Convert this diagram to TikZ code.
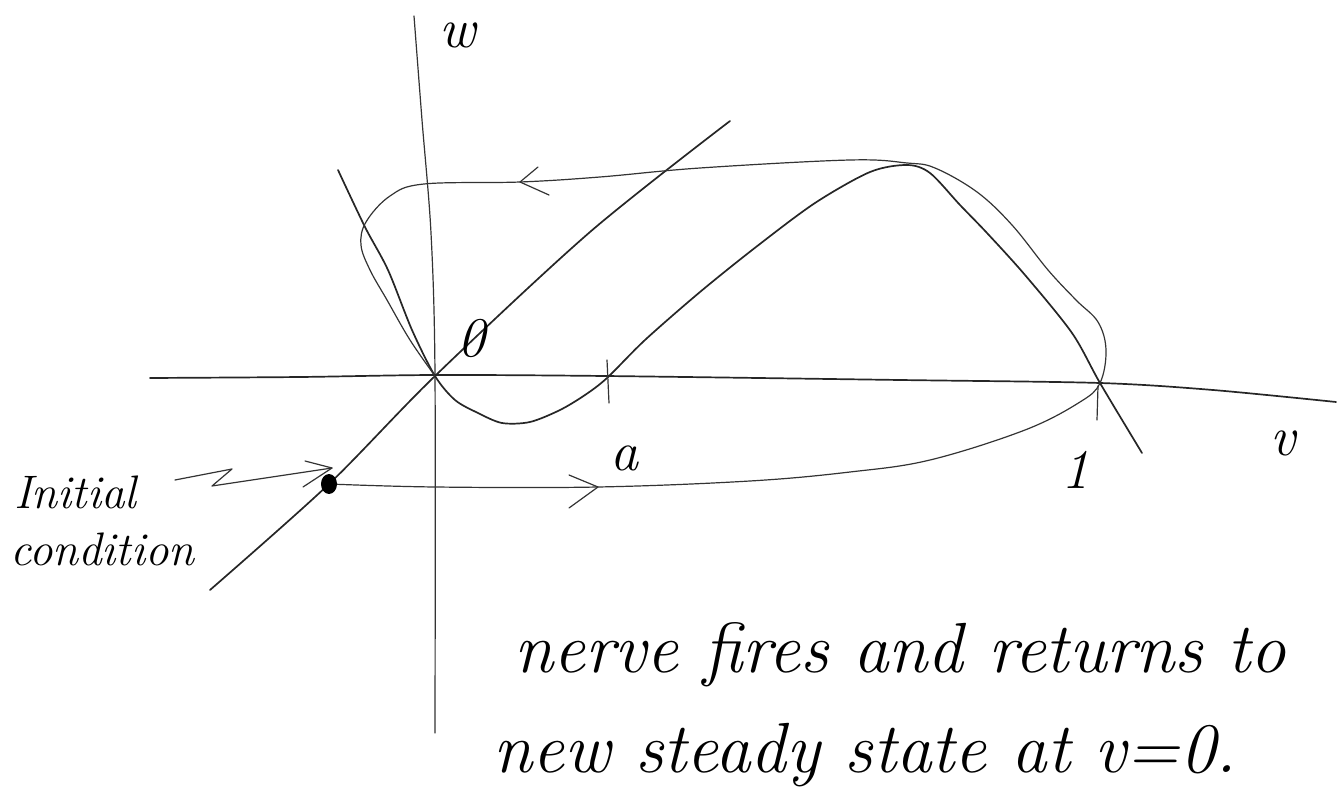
\documentclass[tikz,border=0pt]{standalone}
\begin{document}
\begin{tikzpicture}[x=1pt,y=-1pt,line cap=round,line join=round]
\tikzset{
  ink/.style={line width=1.7pt,black!85},
  thinink/.style={line width=1.2pt,black!80},
  hand/.style={font=\itshape\fontsize{71}{75}\selectfont,anchor=base west,inner sep=0pt},
  lbl/.style={font=\itshape\fontsize{56}{58}\selectfont,inner sep=0pt},
  side/.style={font=\itshape\fontsize{47}{50}\selectfont,inner sep=0pt,anchor=base west}
}
\useasboundingbox (0,0) rectangle (1339,791);

% axes
\draw[ink] plot[smooth] coordinates {(150,378) (300,377) (435,375) (605,376) (900,380) (1100,383) (1213,390) (1336,402)};
\draw[thinink] plot[smooth] coordinates {(414,16) (422,120) (431,233) (435,375) (435,733)};
\coordinate (O) at (435,376);

% diagonal nullcline
\draw[ink] plot[smooth] coordinates {(210,590) (329,484) (435,376) (590,232) (730,121)};

% cubic nullcline
\draw[ink] plot[smooth] coordinates {(338,170) (365,227) (388,270) (412,330) (435,376) (455,400) (478,413) (502,423) (530,422) (560,410) (585,395) (607,378) (645,340) (700,292) (756,247) (815,203) (870,172) (907,165) (930,173) (960,205) (987,233) (1025,275) (1072,333) (1100,383) (1142,453)};

% ticks
\draw[thinink] (607,360) -- (609,403);
\draw[thinink] (1098,386) -- (1097,420);

% trajectory
\coordinate (dot) at (329,484);
\draw[thinink] plot[smooth,tension=0.6] coordinates {(329,484) (435,487) (598,487) (750,481) (850,472) (930,460) (1025,430) (1080,402) (1100,383) (1106,350) (1098,322) (1076,300) (1048,270) (1012,225) (977,192) (935,168) (907,163) (850,160) (700,168) (600,177) (520,182) (424,184) (390,196) (366,222) (361,245) (370,270) (387,300) (410,340) (435,376)};
\fill[black] (dot) ellipse [x radius=8,y radius=10];

% arrowheads on trajectory
\draw[thinink] (538,167) -- (520,182) -- (549,195);
\draw[thinink] (569,475) -- (598,487) -- (569,508);

% labels
\node[lbl,anchor=base] (w) at (458,48) {w};
\node[lbl] (zero) at (471,338) {0};
\node[lbl] (a) at (624,458) {a};
\node[lbl] (v) at (1283,443) {v};
\node[lbl] (one) at (1075,470) {1};

% initial condition
\node[side] (init) at (14,508) {Initial};
\node[side] (cond) at (10,565) {condition};
\coordinate (ztip) at (332,468);
\draw[thinink] (175,480) -- (232,469) -- (212,486) -- (ztip);
\draw[thinink] (305,461) -- (ztip) -- (303,487);

% caption
\node[hand] (l1) at (514,672) {nerve fires and returns to};
\node[hand] (l2) at (493,772) {new steady state at v=0.};
\end{tikzpicture}
\end{document}
